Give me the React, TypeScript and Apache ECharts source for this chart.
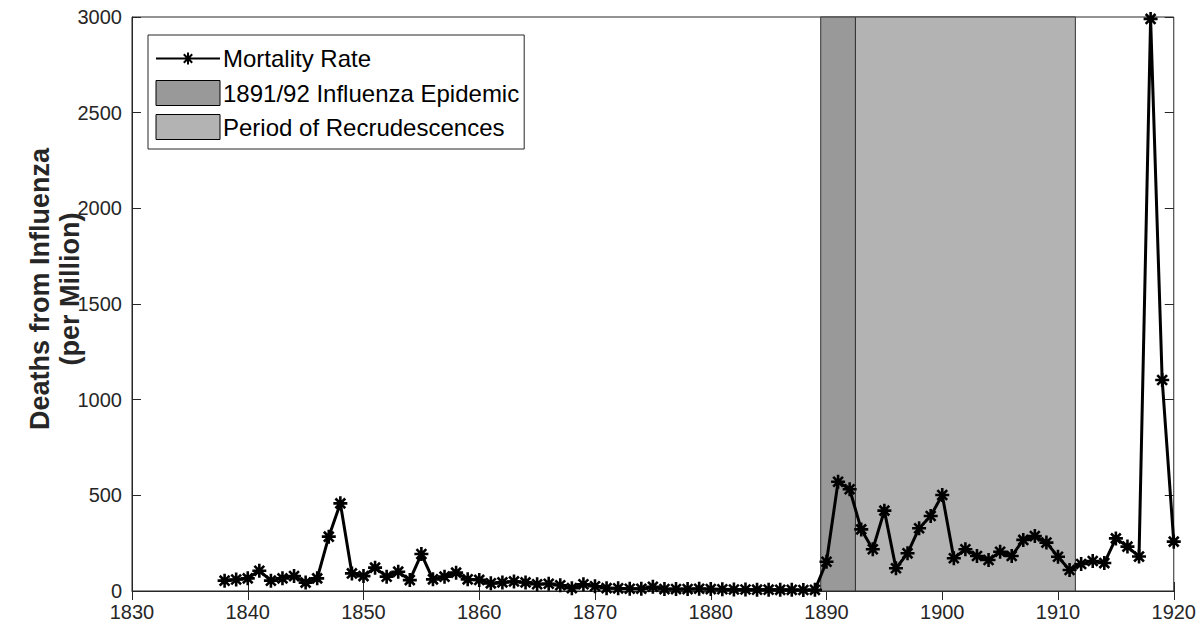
import React, { useEffect, useRef } from "react";
import * as echarts from "echarts";

// Annual influenza mortality, deaths per million, 1838–1920
const startYear = 1838;
const mortalityRate = [
  54, 60, 66, 106, 54, 66, 78, 44, 66, 284, // 1838–1847
  458, 92, 78, 122, 75, 101, 57, 193, 61, 75, // 1848–1857
  96, 61, 58, 40, 45, 50, 45, 35, 38, 30, // 1858–1867
  15, 35, 25, 15, 14, 12, 12, 22, 10, 10, // 1868–1877
  10, 12, 10, 9, 8, 8, 7, 7, 6, 6, // 1878–1887
  5, 6, 153, 571, 532, 322, 218, 420, 119, 197, // 1888–1897
  328, 392, 502, 171, 218, 183, 162, 205, 183, 267, // 1898–1907
  287, 253, 179, 110, 141, 157, 146, 275, 232, 180, // 1908–1917
  2990, 1103, 258, // 1918–1920
];

// Shaded periods (year boundaries)
const epidemicSpan = [1889.5, 1892.5];
const recrudescenceSpan = [1892.5, 1911.5];

const seriesNames = [
  "Mortality Rate",
  "1891/92 Influenza Epidemic",
  "Period of Recrudescences",
];
const yTitle = "Deaths from Influenza\n(per Million)";

// Axis ranges and tick steps
const xRange = [1830, 1920];
const xStep = 10;
const yRange = [0, 3000];
const yStep = 500;

const FONT = "'Liberation Sans', Arial, Helvetica, sans-serif";
const AXIS_COLOR = "#262626";
const ASTERISK = "path://M10 0L10 20M0 10L20 10M3 3L17 17M3 17L17 3";
// Legend sample: a line with a small asterisk in the middle, laid out in a 64x25 box
const LEGEND_LINE_STAR =
  "path://M0 0M64 25M0 12.5L64 12.5M32 6.5L32 18.5M26 12.5L38 12.5M27.8 8.3L36.2 16.7M27.8 16.7L36.2 8.3";

export default function App() {
  const ref = useRef<HTMLDivElement>(null);

  useEffect(() => {
    if (!ref.current) return;
    const chart = echarts.init(ref.current, undefined, { renderer: "svg" });

    const points = mortalityRate.map((v, i) => [startYear + i, v]);

    const tickStyle = { inside: true, length: 9, lineStyle: { color: AXIS_COLOR, width: 1 } };
    const plain = (v: number) => String(v);

    chart.setOption({
      animation: false,
      grid: {
        left: 132,
        right: 22,
        top: 17,
        bottom: 34,
        show: true,
        borderColor: AXIS_COLOR,
        borderWidth: 1,
        backgroundColor: "transparent",
      },
      // Vertical y-axis title, two lines, rotated to read bottom-to-top
      graphic: [
        {
          type: "text",
          x: 55,
          y: 289,
          rotation: Math.PI / 2,
          silent: true,
          style: {
            text: yTitle,
            fontSize: 27,
            fontWeight: "bold",
            fontFamily: FONT,
            fill: AXIS_COLOR,
            lineHeight: 30,
            align: "center",
            verticalAlign: "middle",
            textAlign: "center",
            textVerticalAlign: "middle",
          },
        },
      ],
      legend: {
        left: 148,
        top: 35,
        orient: "vertical",
        itemWidth: 64,
        itemHeight: 25,
        itemGap: 8,
        padding: [10, 5, 9, 7],
        backgroundColor: "#fff",
        borderColor: AXIS_COLOR,
        borderWidth: 1,
        borderRadius: 0,
        selectedMode: false,
        textStyle: { fontSize: 24, color: "#000", fontFamily: FONT, padding: [0, 0, 0, -2] },
        data: [
          {
            name: seriesNames[0],
            icon: LEGEND_LINE_STAR,
            itemStyle: { color: "#000", borderColor: "#000", borderWidth: 2 },
          },
          {
            name: seriesNames[1],
            icon: "rect",
            itemStyle: { color: "#999999", borderColor: "#000", borderWidth: 1 },
          },
          {
            name: seriesNames[2],
            icon: "rect",
            itemStyle: { color: "#b3b3b3", borderColor: "#000", borderWidth: 1 },
          },
        ],
      },
      xAxis: [
        {
          type: "value",
          min: xRange[0],
          max: xRange[1],
          interval: xStep,
          axisLine: { show: true, lineStyle: { color: AXIS_COLOR, width: 1 } },
          axisTick: tickStyle,
          axisLabel: { color: AXIS_COLOR, fontSize: 20, fontFamily: FONT, margin: 11, formatter: plain },
          splitLine: { show: false },
        },
        {
          type: "value",
          position: "top",
          min: xRange[0],
          max: xRange[1],
          interval: xStep,
          axisLine: { show: false },
          axisTick: tickStyle,
          axisLabel: { show: false },
          splitLine: { show: false },
        },
      ],
      yAxis: [
        {
          type: "value",
          min: yRange[0],
          max: yRange[1],
          interval: yStep,
          axisLine: { show: true, lineStyle: { color: AXIS_COLOR, width: 1 } },
          axisTick: tickStyle,
          axisLabel: { color: AXIS_COLOR, fontSize: 20, fontFamily: FONT, margin: 10, formatter: plain },
          splitLine: { show: false },
        },
        {
          type: "value",
          position: "right",
          min: yRange[0],
          max: yRange[1],
          interval: yStep,
          axisLine: { show: false },
          axisTick: tickStyle,
          axisLabel: { show: false },
          splitLine: { show: false },
        },
      ],
      series: [
        {
          name: seriesNames[1],
          type: "line",
          data: [],
          z: 1,
          itemStyle: { color: "#999999" },
          markArea: {
            silent: true,
            itemStyle: { color: "#999999", borderColor: "#333", borderWidth: 1 },
            data: [[{ xAxis: epidemicSpan[0] }, { xAxis: epidemicSpan[1] }]],
          },
        },
        {
          name: seriesNames[2],
          type: "line",
          data: [],
          z: 1,
          itemStyle: { color: "#b3b3b3" },
          markArea: {
            silent: true,
            itemStyle: { color: "#b3b3b3", borderColor: "#333", borderWidth: 1 },
            data: [[{ xAxis: recrudescenceSpan[0] }, { xAxis: recrudescenceSpan[1] }]],
          },
        },
        {
          name: seriesNames[0],
          type: "line",
          data: points,
          z: 5,
          clip: false,
          symbol: ASTERISK,
          symbolSize: 14,
          showAllSymbol: true,
          lineStyle: { color: "#000", width: 3 },
          itemStyle: { color: "#000", borderColor: "#000", borderWidth: 2.6 },
        },
      ],
    });

    return () => chart.dispose();
  }, []);

  return (
    <div
      ref={ref}
      style={{ position: "absolute", left: 0, top: 0, width: 1199, height: 625, background: "#fff" }}
    />
  );
}
